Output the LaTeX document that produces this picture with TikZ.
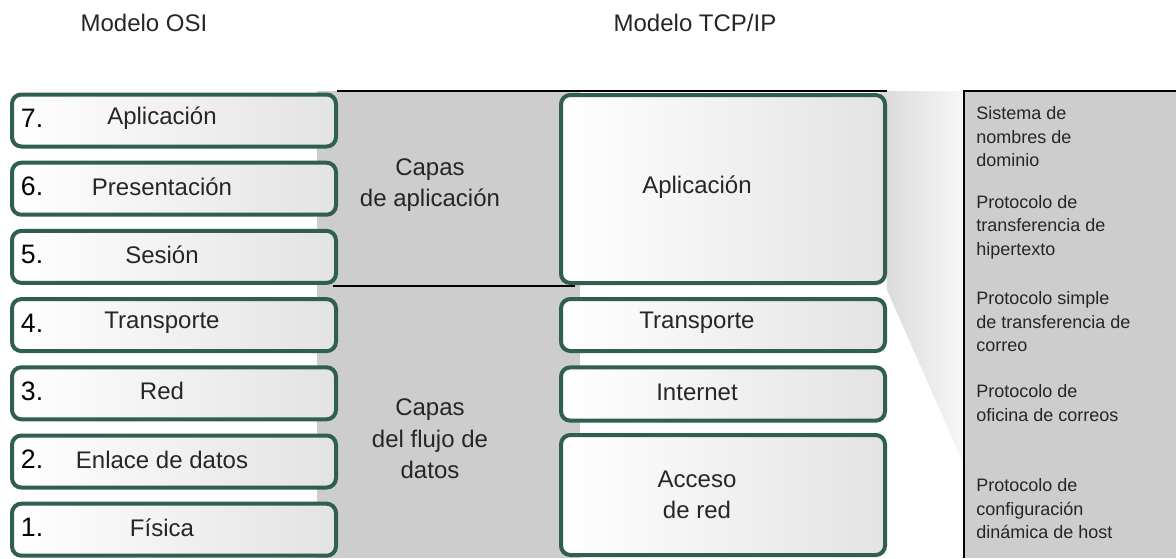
\documentclass[tikz,border=0pt]{standalone}
\usepackage{fontspec}
\setmainfont{Liberation Sans}
\usepackage{tikz}
\usetikzlibrary{positioning}
\definecolor{layergreen}{HTML}{2F5E52}
\definecolor{bandgray}{HTML}{CDCDCD}
\definecolor{txtgray}{HTML}{262626}

\begin{document}
\begin{tikzpicture}[x=0.75pt, y=-0.75pt,
    layerbox/.style={draw=layergreen, line width=3pt, rounded corners=7pt,
      left color=white, right color=gray!22, minimum width=243pt, inner sep=0pt},
    layertext/.style={text=txtgray, font=\fontsize{18}{23.5}\selectfont, align=center},
    layernum/.style={anchor=west, inner sep=0pt, font=\fontsize{20}{23}\selectfont},
    protext/.style={anchor=west, align=left, inner sep=0pt, text=txtgray,
      font=\fontsize{13.5}{17.6}\selectfont}]
                \useasboundingbox (0,0) rectangle (1176,558);
                \fill [bandgray] (317,91) rectangle (580,558);
                \shade [left color=gray!30, right color=gray!6] (880,91) -- (964,91) -- (964,465) -- (887,290) -- cycle;
                \fill [bandgray] (964,91) rectangle (1176,558);
                \draw [line width=0.9pt] (964,558) -- (964,91) -- (1176,91);
                \draw [line width=0.8pt] (337,91) -- (887,91);
                \draw [line width=0.8pt] (333,286) -- (575,286);
                \node [layertext] at (144,23) (osititle) {Modelo OSI};
                \node [layertext] at (695,23) (tcptitle) {Modelo TCP/IP};
                \foreach \n/\lname in {7/Aplicación, 6/Presentación, 5/Sesión, 4/Transporte, 3/Red, 2/Enlace de datos, 1/Física}{
                  \node [layerbox, minimum height=39pt] at (174, {120.5+(7-\n)*68.2}) (osi\n) {};
                  \node [layernum] at ([xshift=8pt, yshift=1.5pt]osi\n.west) (num\n) {\n.};
                  \node [layertext] at ([xshift=-9pt, yshift=1.5pt]osi\n.center) (lbl\n) {\lname};
                }
                \node [layertext] at (430,185) (appgroup) {Capas\\de aplicación};
                \node [layertext] at (430,439) (flowgroup) {Capas\\del flujo de\\datos};
                \node [layerbox, minimum height=141pt] at (723,189) (tcpapp) {};
                \node [layerbox, minimum height=39pt] at (723,325) (tcptrans) {};
                \node [layerbox, minimum height=40pt] at (723,394) (tcpnet) {};
                \node [layerbox, minimum height=90pt] at (723,495) (tcpacc) {};
                \node [layertext] at ([xshift=-19.5pt, yshift=1.5pt]tcpapp.center) (tcpapplbl) {Aplicación};
                \node [layertext] at ([xshift=-19.5pt, yshift=1.5pt]tcptrans.center) (tcptranslbl) {Transporte};
                \node [layertext] at ([xshift=-19.5pt, yshift=1.5pt]tcpnet.center) (tcpnetlbl) {Internet};
                \node [layertext] at ([xshift=-19.5pt]tcpacc.center) (tcpacclbl) {Acceso\\de red};
                \node [protext] at (976,137) (dns) {Sistema de\\nombres de\\dominio};
                \node [protext] at (976,227) (http) {Protocolo de\\transferencia de\\hipertexto};
                \node [protext] at (976,322) (smtp) {Protocolo simple\\de transferencia de\\correo};
                \node [protext] at (976,403) (pop) {Protocolo de\\oficina de correos};
                \node [protext] at (976,509) (dhcp) {Protocolo de\\configuración\\dinámica de host};
            \end{tikzpicture}
\end{document}
